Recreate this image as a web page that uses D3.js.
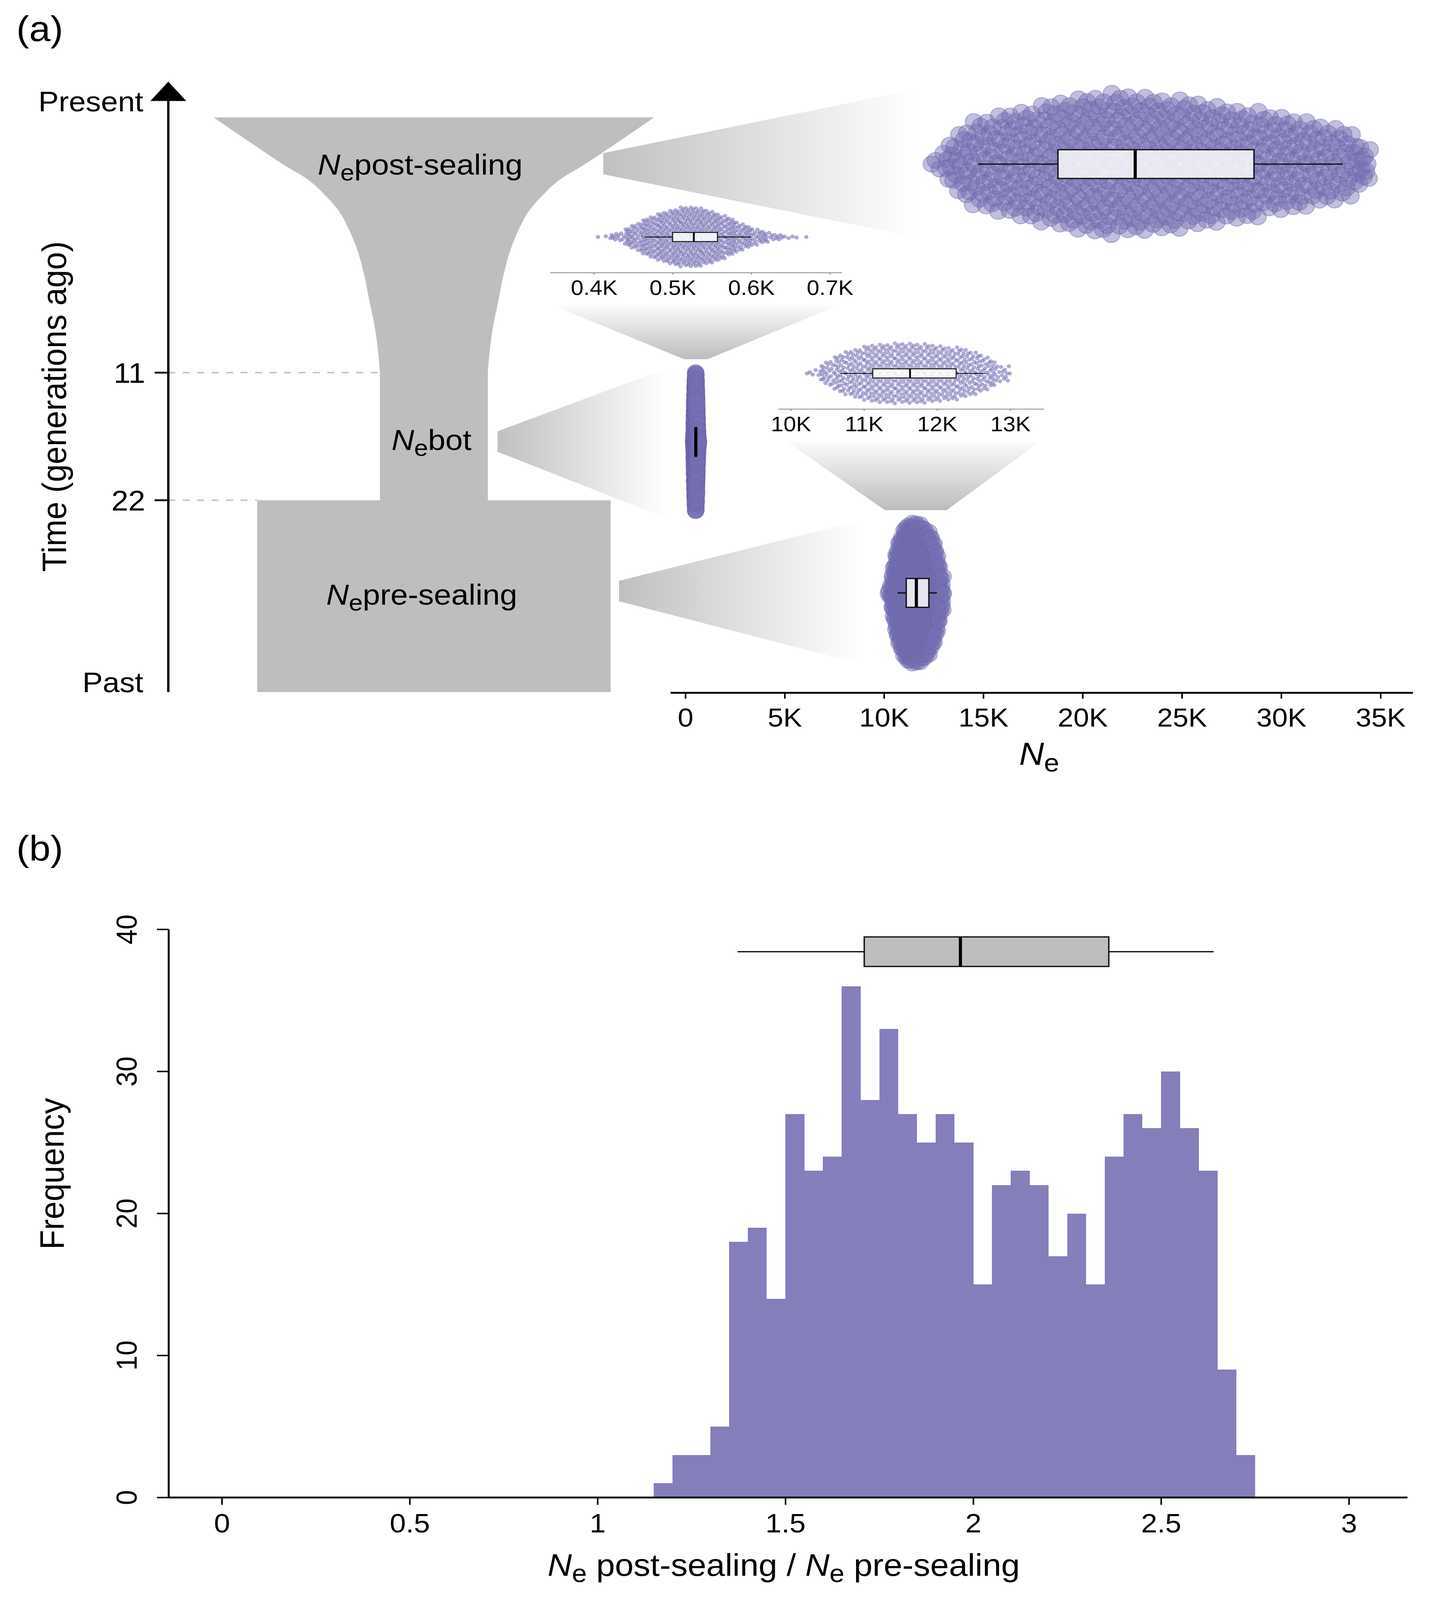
<!DOCTYPE html>
<html><head><meta charset="utf-8">
<script src="https://cdn.jsdelivr.net/npm/d3@7"></script>
<style>
html,body{margin:0;padding:0;background:#fff;overflow:hidden}
svg{display:block}
text{font-family:"Liberation Sans",Arial,Helvetica,sans-serif;fill:#000}
</style>
</head><body>
<svg id="c" viewBox="0 0 3672 4388" preserveAspectRatio="none"></svg>
<script>
// ---------------- DATA ----------------
const timeTicks = [11, 22];
const timeEnds = ["Present", "Past"];
// schematic population-size profile (relative half-width vs generations ago)
const funnelTime  = [0, 1.0, 2.0, 2.7, 3.4, 4.0, 4.8, 5.7, 6.8, 7.9, 9.05, 10.2, 11];
const funnelWidth = [1, 0.846, 0.688, 0.569, 0.489, 0.434, 0.387, 0.348, 0.316, 0.293, 0.268, 0.252, 0.245];
const bottleneckWidth = 0.245;
const preWidth = 0.8025;
const epochLabels = ["post-sealing", "bot", "pre-sealing"];

const postEdges  = [12300,13100,14000,15000,16000,17000,18000,19000,20000,21000,22000,23000,24000,25000,26000,27000,28000,29000,30000,31000,32000,33000,34000,34500];
const postCounts = [4,15,24,26,29,31,34,36,38,39,38,37,36,35,33,31,30,27,26,23,21,19,8];
const botEdges   = [400,420,440,460,480,500,520,540,560,580,600,620,640,660,680];
const botCounts  = [2,13,40,66,84,98,100,86,67,42,24,11,4,1];
const preEdges   = [10200,10400,10600,10800,11000,11200,11400,11600,11800,12000,12200,12400,12600,12800,13000];
const preCounts  = [5,26,43,52,60,62,63,63,61,57,54,46,34,15];

// box stats: [lower whisker, Q1, median, Q3, upper whisker]
const postBox  = [14740, 18760, 22650, 28630, 33100];
const botBox   = [465, 500, 527, 557, 600];
const preBox   = [10680, 11120, 11630, 12260, 12660];
const ratioBox = [1.373, 1.71, 1.966, 2.361, 2.64];

const neTicks = [0, 5000, 10000, 15000, 20000, 25000, 30000, 35000];
const botInsetTicks = [400, 500, 600, 700];
const preInsetTicks = [10000, 11000, 12000, 13000];

// histogram of Ne post / Ne pre
const ratioEdges  = [1.15,1.2,1.25,1.3,1.35,1.4,1.45,1.5,1.55,1.6,1.65,1.7,1.75,1.8,1.85,1.9,1.95,2.0,2.05,2.1,2.15,2.2,2.25,2.3,2.35,2.4,2.45,2.5,2.55,2.6,2.65,2.7,2.75];
const ratioCounts = [1,3,3,5,18,19,14,27,23,24,36,28,33,27,25,27,25,15,22,23,22,17,20,15,24,27,26,30,26,23,9,3];
const histXTicks = [0, 0.5, 1, 1.5, 2, 2.5, 3];
const histYTicks = [0, 10, 20, 30, 40];

// ---------------- STYLE / LAYOUT ----------------
const FONT = '"Liberation Sans",Arial,Helvetica,sans-serif';
const GRAY = "#bebebe";
const PURPLE = "#7570b3";
const HIST = "#847ebb";

const svg = d3.select("#c")
  .attr("width", window.innerWidth || 3672)
  .attr("height", window.innerHeight || 4388);
const defs = svg.append("defs");
const gH = defs.append("linearGradient").attr("id","gH").attr("x1",0).attr("x2",1).attr("y1",0).attr("y2",0);
gH.append("stop").attr("offset",0).attr("stop-color","#c0c0c0");
gH.append("stop").attr("offset",1).attr("stop-color","#ffffff");
const gV = defs.append("linearGradient").attr("id","gV").attr("x1",0).attr("x2",0).attr("y1",0).attr("y2",1);
gV.append("stop").attr("offset",0).attr("stop-color","#fbfbfb");
gV.append("stop").attr("offset",1).attr("stop-color","#bcbcbc");

function neText(sel, rest, size, gap){
  sel.append("tspan").attr("font-style","italic").text("N");
  sel.append("tspan").attr("font-size", size*0.8).attr("dy", size*0.2).text("e");
  sel.append("tspan").attr("dy", -size*0.2).text((gap?" ":"") + rest);
}
function neLabelMulti(sel, parts, size){
  parts.forEach(p=>{
    sel.append("tspan").attr("font-style","italic").text("N");
    sel.append("tspan").attr("font-size", size*0.8).attr("dy", size*0.2).text("e");
    sel.append("tspan").attr("dy", -size*0.2).text(p);
  });
}

// ---------------- PANEL LABELS ----------------
svg.append("text").attr("x",42).attr("y",112).attr("font-size",98).text("(a)");
svg.append("text").attr("x",42).attr("y",2360).attr("font-size",98).text("(b)");

// ---------------- PANEL A: schematic ----------------
const yTime = d3.scaleLinear().domain([0, 11, 22, 33]).range([322, 1022, 1372, 1898]);
const cx = 1111;
const wScale = d3.scaleLinear().domain([0, 1]).range([0, 564]);

// connector wedges (decorative zoom cones)
const wedges = [
  {pts:[[1545,420],[2345,245],[2345,650],[1545,478]], g:"gH"},
  {pts:[[1274,1183],[1707,1010],[1707,1421],[1274,1239]], g:"gH"},
  {pts:[[1585,1593],[2205,1427],[2205,1821],[1585,1649]], g:"gH"},
  {pts:[[1417,838],[2146,838],[1812,985],[1752,985]], g:"gV"},
  {pts:[[2016,1212],[2662,1212],[2424,1399],[2266,1399]], g:"gV"}
];
svg.append("g").selectAll("polygon").data(wedges).join("polygon")
  .attr("points", d=>d.pts.map(p=>p.join(",")).join(" "))
  .attr("fill", d=>`url(#${d.g})`);

// funnel
const funnel = funnelTime.map((t,i)=>({t, w: funnelWidth[i]}));
const area = d3.area().curve(d3.curveMonotoneY)
  .y(d=>yTime(d.t)).x0(d=>cx - wScale(d.w)).x1(d=>cx + wScale(d.w));
svg.append("path").attr("d", area(funnel)).attr("fill", GRAY);
svg.append("rect").attr("x", cx - wScale(bottleneckWidth)).attr("width", 2*wScale(bottleneckWidth))
  .attr("y", yTime(11)-2).attr("height", yTime(22)-yTime(11)+3).attr("fill", GRAY);
svg.append("rect").attr("x", cx - wScale(preWidth)).attr("width", 2*wScale(preWidth))
  .attr("y", yTime(22)).attr("height", yTime(33)-yTime(22)).attr("fill", GRAY);

// dashed guides
const axX = 431;
svg.append("line").attr("x1",axX).attr("x2",cx - wScale(bottleneckWidth)).attr("y1",yTime(11)).attr("y2",yTime(11))
  .attr("stroke","#c4c4c4").attr("stroke-width",4).attr("stroke-dasharray","18 19");
svg.append("line").attr("x1",axX).attr("x2",cx - wScale(preWidth)).attr("y1",yTime(22)).attr("y2",yTime(22))
  .attr("stroke","#c4c4c4").attr("stroke-width",4).attr("stroke-dasharray","18 19");

// time axis
svg.append("line").attr("x1",axX).attr("x2",axX).attr("y1",270).attr("y2",yTime(33))
  .attr("stroke","#000").attr("stroke-width",6);
svg.append("polygon").attr("points",`${axX},224 ${axX-46},277 ${axX+46},277`).attr("fill","#000");
timeTicks.forEach(t=>{
  svg.append("line").attr("x1",396).attr("x2",axX).attr("y1",yTime(t)).attr("y2",yTime(t))
    .attr("stroke","#000").attr("stroke-width",5);
  svg.append("text").attr("x",372).attr("y",yTime(t)).attr("dy","0.36em").attr("text-anchor","end")
    .attr("font-size",78).text(t);
});
svg.append("text").attr("x",367).attr("y",277).attr("dy","0.36em").attr("text-anchor","end").attr("font-size",78).text(timeEnds[0]);
svg.append("text").attr("x",367).attr("y",yTime(33)).attr("text-anchor","end").attr("font-size",78).text(timeEnds[1]);
svg.append("text").attr("transform","translate(169,1115) rotate(-90)").attr("text-anchor","middle")
  .attr("font-size",88).text("Time (generations ago)");

// epoch labels
const labPos = [[1076,479],[1105,1234],[1080,1658]];
epochLabels.forEach((l,i)=>{
  const t = svg.append("text").attr("x",labPos[i][0]).attr("y",labPos[i][1]).attr("text-anchor","middle").attr("font-size",80);
  neText(t, l, 80, false);
});

// ---------------- swarm helpers ----------------
function vdc(n){ let v=0, d=1; while(n>0){ d*=2; v += (n%2)/d; n=Math.floor(n/2); } return v; }
function layout(edges, counts){
  const centers = counts.map((c,i)=>(edges[i]+edges[i+1])/2);
  const maxC = d3.max(counts);
  const dens = d3.scaleLinear().domain(centers).range(counts).clamp(true);
  const vals = [];
  counts.forEach((n,i)=>{ for(let j=0;j<n;j++) vals.push(edges[i] + (j+0.5)/n*(edges[i+1]-edges[i])); });
  return vals.map((v,k)=>({v, off:(2*vdc(k+1)-1)*dens(v)/maxC}));
}
const postPts = layout(postEdges, postCounts);
const botPts  = layout(botEdges, botCounts);
const prePts  = layout(preEdges, preCounts);

function drawSwarm(g, x, pts, cy, half, r, main){
  const s = g.append("g").selectAll("circle").data(pts).join("circle")
    .attr("cx", d=>x(d.v)).attr("cy", d=>cy + d.off*half).attr("r", r)
    .attr("fill", PURPLE);
  if(main){
    s.attr("fill-opacity",0.45).attr("stroke","#6a65a9").attr("stroke-opacity",0.45).attr("stroke-width",2.5);
  } else {
    s.attr("fill-opacity",0.58);
  }
}
function drawBox(g, x, st, cy, h, sw, mw, fill, fop){
  const b = g.append("g");
  b.append("line").attr("x1",x(st[0])).attr("x2",x(st[1])).attr("y1",cy).attr("y2",cy).attr("stroke","#111").attr("stroke-width",sw);
  b.append("line").attr("x1",x(st[3])).attr("x2",x(st[4])).attr("y1",cy).attr("y2",cy).attr("stroke","#111").attr("stroke-width",sw);
  b.append("rect").attr("x",x(st[1])).attr("width",x(st[3])-x(st[1])).attr("y",cy-h/2).attr("height",h)
    .attr("fill",fill).attr("fill-opacity",fop).attr("stroke","#111").attr("stroke-width",sw);
  b.append("line").attr("x1",x(st[2])).attr("x2",x(st[2])).attr("y1",cy-h/2).attr("y2",cy+h/2).attr("stroke","#000").attr("stroke-width",mw);
}
const kfmt = v => v===0 ? "0" : (v/1000) + "K";

// ---------------- main Ne axis ----------------
const xMain = d3.scaleLinear().domain([0, 35000]).range([1755, 3535]);
const gm = svg.append("g");
drawSwarm(gm, xMain, postPts, 450, 195, 22, true);
drawSwarm(gm, xMain, botPts, 1212, 195, 21, true);
drawSwarm(gm, xMain, prePts, 1627, 195, 21, true);
drawBox(gm, xMain, postBox, 450, 79, 3.5, 8, "#ffffff", 0.82);
drawBox(gm, xMain, botBox, 1212, 79, 3.5, 8, "#ffffff", 0.82);
drawBox(gm, xMain, preBox, 1626, 79, 3.5, 8, "#ffffff", 0.82);

const axMain = svg.append("g").attr("transform","translate(0,1900)")
  .call(d3.axisBottom(xMain).tickValues(neTicks).tickFormat(kfmt).tickSize(16).tickPadding(26).tickSizeOuter(0));
axMain.select(".domain").remove();
axMain.selectAll(".tick line").attr("stroke","#000").attr("stroke-width",4);
axMain.selectAll(".tick text").attr("font-size",72).attr("font-family",FONT).attr("fill","#000");
svg.append("line").attr("x1",1717).attr("x2",3618).attr("y1",1900).attr("y2",1900).attr("stroke","#000").attr("stroke-width",5);
const neT = svg.append("text").attr("x",2661).attr("y",2098).attr("text-anchor","middle").attr("font-size",88);
neText(neT, "", 88, false);

// ---------------- insets ----------------
function inset(x, pts, box, ticks, cy, axisY, lineX){
  const g = svg.append("g");
  drawSwarm(g, x, pts, cy, 83, 5.5, false);
  drawBox(g, x, box, cy, 25, 2.5, 4.5, "#ffffff", 0.85);
  g.append("line").attr("x1",lineX[0]).attr("x2",lineX[1]).attr("y1",axisY).attr("y2",axisY)
    .attr("stroke","#a3a3a3").attr("stroke-width",3);
  const a = g.append("g").attr("transform",`translate(0,${axisY})`)
    .call(d3.axisBottom(x).tickValues(ticks).tickFormat(kfmt).tickSize(5).tickPadding(15).tickSizeOuter(0));
  a.select(".domain").remove();
  a.selectAll(".tick line").attr("stroke","#8a8a8a").attr("stroke-width",2.5);
  a.selectAll(".tick text").attr("font-size",58).attr("font-family",FONT).attr("fill","#000");
}
const xBotInset = d3.scaleLinear().domain([400, 700]).range([1521, 2125]);
const xPreInset = d3.scaleLinear().domain([10000, 13000]).range([2025, 2587]);
inset(xBotInset, botPts, botBox, botInsetTicks, 650, 748, [1409, 2156]);
inset(xPreInset, prePts, preBox, preInsetTicks, 1024, 1122, [1993, 2673]);

// ---------------- PANEL B: histogram ----------------
const xH = d3.scaleLinear().domain([0, 3]).range([568, 3454]);
const yH = d3.scaleLinear().domain([0, 40]).range([4107, 2549]);
const bins = ratioCounts.map((c,i)=>({lo:ratioEdges[i], hi:ratioEdges[i+1], c}));
svg.append("g").selectAll("rect").data(bins).join("rect")
  .attr("x", d=>xH(d.lo)).attr("width", d=>xH(d.hi)-xH(d.lo)+0.5)
  .attr("y", d=>yH(d.c)).attr("height", d=>yH(0)-yH(d.c))
  .attr("fill", HIST).attr("shape-rendering","crispEdges");

drawBox(svg, xH, ratioBox, 2610, 81, 3.5, 8, "#bebebe", 1);

// axes
const axXh = svg.append("g").attr("transform","translate(0,4107)")
  .call(d3.axisBottom(xH).tickValues(histXTicks).tickFormat(d3.format("")).tickSize(20).tickPadding(23).tickSizeOuter(0));
axXh.select(".domain").remove();
axXh.selectAll(".tick line").attr("stroke","#000").attr("stroke-width",4);
axXh.selectAll(".tick text").attr("font-size",74).attr("font-family",FONT).attr("fill","#000");
svg.append("line").attr("x1",432).attr("x2",3604).attr("y1",4107).attr("y2",4107).attr("stroke","#000").attr("stroke-width",5);
svg.append("line").attr("x1",432).attr("x2",432).attr("y1",yH(40)).attr("y2",4109).attr("stroke","#000").attr("stroke-width",5);
histYTicks.forEach(v=>{
  svg.append("line").attr("x1",402).attr("x2",432).attr("y1",yH(v)).attr("y2",yH(v)).attr("stroke","#000").attr("stroke-width",4);
  svg.append("text").attr("transform",`translate(350,${yH(v)}) rotate(-90)`).attr("text-anchor","middle")
    .attr("font-size",74).text(v);
});
svg.append("text").attr("transform","translate(163,3219) rotate(-90)").attr("text-anchor","middle")
  .attr("font-size",88).text("Frequency");
const xt = svg.append("text").attr("x",2007).attr("y",4322).attr("text-anchor","middle").attr("font-size",86);
neLabelMulti(xt, [" post-sealing / ", " pre-sealing"], 86);
</script>
</body></html>
